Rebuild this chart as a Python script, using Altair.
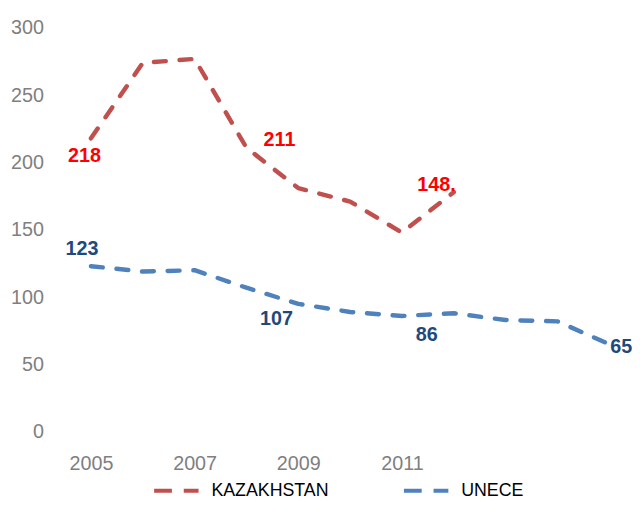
import altair as alt
import pandas as pd

# ---- data ----
series_names = ["KAZAKHSTAN", "UNECE"]
series_colors = ["#c0504d", "#4f81bd"]

kz_years = [2005, 2006, 2007, 2008, 2009, 2010, 2011, 2012]
kz_values = [218, 274, 277, 211, 181, 171, 148, 178]

un_years = [2005, 2006, 2007, 2008, 2009, 2010, 2011, 2012, 2013, 2014, 2015]
un_values = [123, 119, 120, 107, 95, 89, 86, 88, 83, 82, 65]

kz_label_years = [2005, 2008, 2011]
kz_label_texts = ["218", "211", "148."]
un_label_years = [2005, 2008, 2011, 2015]
un_label_texts = ["123", "107", "86", "65"]

x_tick_values = [2005, 2007, 2009, 2011]
y_tick_values = [0, 50, 100, 150, 200, 250, 300]

# ---- tables ----
lines_df = pd.concat([
    pd.DataFrame({"year": kz_years, "value": kz_values, "series": series_names[0]}),
    pd.DataFrame({"year": un_years, "value": un_values, "series": series_names[1]}),
], ignore_index=True)

kz_lookup = dict(zip(kz_years, kz_values))
un_lookup = dict(zip(un_years, un_values))
labels_df = pd.concat([
    pd.DataFrame({"year": kz_label_years,
                  "value": [kz_lookup[y] for y in kz_label_years],
                  "text": kz_label_texts, "series": series_names[0]}),
    pd.DataFrame({"year": un_label_years,
                  "value": [un_lookup[y] for y in un_label_years],
                  "text": un_label_texts, "series": series_names[1]}),
], ignore_index=True)

FONT = "Liberation Sans, Arial, sans-serif"

x_scale = alt.Scale(domain=[2004.295, 2015.305], nice=False, zero=False)
y_scale = alt.Scale(domain=[0, 300], nice=False)

x_enc = alt.X("year:Q", scale=x_scale,
              axis=alt.Axis(values=x_tick_values, format="d", title=None,
                            grid=False, domain=False, ticks=False,
                            labelFont=FONT, labelFontSize=20, labelColor="#7f7f7f",
                            labelBaseline="middle", labelPadding=32,
                            labelFlush=False, labelOverlap=False))
y_enc = alt.Y("value:Q", scale=y_scale,
              axis=alt.Axis(values=y_tick_values, title=None, grid=False,
                            domain=False, ticks=False,
                            labelFont=FONT, labelFontSize=20, labelColor="#7f7f7f",
                            labelPadding=11, labelFlush=False, labelOverlap=False))

lines = alt.Chart(lines_df).mark_line(
    strokeWidth=4.5, strokeDash=[12, 14], strokeCap="round", strokeJoin="round"
).encode(
    x=x_enc,
    y=y_enc,
    color=alt.Color("series:N",
                    scale=alt.Scale(domain=series_names, range=series_colors),
                    legend=alt.Legend(title=None, orient="none", direction="horizontal",
                                      legendX=99, legendY=444,
                                      symbolType="stroke", symbolSize=2025,
                                      symbolStrokeWidth=4, symbolDash=[18, 12],
                                      labelFont=FONT, labelFontSize=18,
                                      labelColor="#000000", labelOffset=11,
                                      columnPadding=68, padding=0)),
    detail="series:N",
)

# per-label offsets (placement styling)
label_offsets = {
    "218": (-6.5, 18, "center"),
    "211": (33.5, -8, "center"),
    "148.": (35, -48, "center"),
    "123": (-9, -17, "center"),
    "107": (30.5, 32, "center"),
    "86": (25, 19, "center"),
    "65": (1, 3, "left"),
}
label_colors = {series_names[0]: "#ff0000", series_names[1]: "#1f497d"}

text_layers = []
for txt, (dx, dy, al) in label_offsets.items():
    ser = labels_df.loc[labels_df["text"] == txt, "series"].iloc[0]
    text_layers.append(
        alt.Chart(labels_df).transform_filter(alt.datum.text == txt).mark_text(
            dx=dx, dy=dy, align=al, baseline="middle",
            font=FONT, fontSize=20, fontWeight="bold", color=label_colors[ser]
        ).encode(
            x=alt.X("year:Q", scale=x_scale),
            y=alt.Y("value:Q", scale=y_scale),
            text="text:N",
        )
    )

chart = alt.layer(lines, *text_layers).properties(
    width=578, height=409,
    autosize=alt.AutoSizeParams(type="none"),
    padding={"left": 47, "top": 17, "right": 7, "bottom": 70},
    background="white",
).configure_view(stroke=None)

chart.save("out.html", embed_options={"renderer": "svg", "actions": False})
